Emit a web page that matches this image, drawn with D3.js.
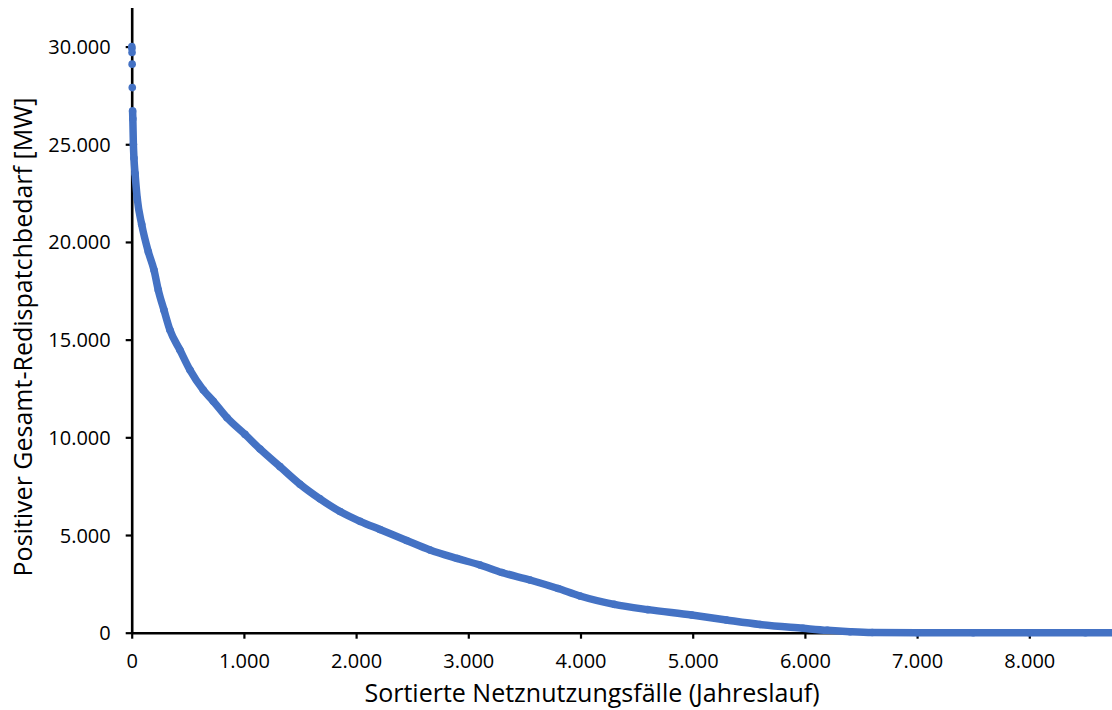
<!DOCTYPE html>
<meta charset="utf-8">
<style>
body { margin: 0; background: #fff; }
text { font-family: "Open Sans", sans-serif; fill: #000; }
.axis path, .axis line { stroke: #000; }
</style>
<svg width="1112" height="710"></svg>
<script src="https://d3js.org/d3.v7.min.js"></script>
<script>

// isolated peak markers at the very start of the sorted year
var peakHours  = [1, 2, 3, 4, 5];
var peakValues = [30000, 29900, 29700, 29100, 27900];

// dense band of markers (sorted hours of the year, MW)
var curveHours  = [8, 10, 15, 20, 30, 50, 89, 148, 199, 237, 288, 341, 430, 520, 638, 727, 850,
                   1010, 1144, 1322, 1500, 1678, 1857, 2035, 2213, 2450, 2659, 2900, 3105, 3300,
                   3550, 3800, 3996, 4300, 4600, 4991, 5300, 5600, 5983, 6200, 6403, 6600,
                   7000, 7500, 8000, 8500, 8760];
var curveValues = [26700, 26300, 25000, 24300, 23500, 22200, 20900, 19500, 18560, 17540, 16510,
                   15490, 14470, 13440, 12420, 11850, 11000, 10150, 9400, 8500, 7600, 6850, 6200,
                   5700, 5280, 4720, 4232, 3800, 3465, 3080, 2697, 2260, 1878, 1450, 1180, 905,
                   650, 420, 225, 120, 50, 10, 0, 0, 0, 0, 0];

var xTicks = [0, 1000, 2000, 3000, 4000, 5000, 6000, 7000, 8000];
var yTicks = [0, 5000, 10000, 15000, 20000, 25000, 30000];

var xTitle = "Sortierte Netznutzungsfälle (Jahreslauf)";
var yTitle = "Positiver Gesamt-Redispatchbedarf [MW]";

var svg = d3.select("svg");
var blue = "#4472C4";

var x = d3.scaleLinear().domain([0, 8760]).range([131.7, 131.7 + 8.76 * 112.2]);
var y = d3.scaleLinear().domain([0, 32000]).range([632.7, 7.5]);

var fmt = function(d) { return d3.format(",")(d).replace(/,/g, "."); };

var xAxis = svg.append("g")
    .attr("class", "axis")
    .attr("transform", "translate(0," + y(0) + ")")
    .call(d3.axisBottom(x).tickValues(xTicks).tickSize(6).tickSizeOuter(0).tickFormat(fmt));

var yAxis = svg.append("g")
    .attr("class", "axis")
    .attr("transform", "translate(" + x(0) + ",0)")
    .call(d3.axisLeft(y).tickValues(yTicks).tickSize(6).tickSizeOuter(0).tickFormat(fmt));

svg.selectAll(".axis path").attr("stroke-width", 2.6);
svg.selectAll(".axis line").attr("stroke-width", 2.2);
svg.selectAll(".axis text")
    .style("font-size", "20px")
    .attr("fill", "#000");
xAxis.selectAll("text").attr("y", 17).attr("dy", "0.9em");
yAxis.selectAll("text").attr("x", -21).attr("dy", "0.35em");

// axis titles
svg.append("text")
    .attr("x", 592)
    .attr("y", 702)
    .attr("text-anchor", "middle")
    .style("font-size", "25px")
    .text(xTitle);

svg.append("text")
    .attr("transform", "translate(32," + 337 + ") rotate(-90)")
    .attr("text-anchor", "middle")
    .style("font-size", "25px")
    .text(yTitle);

// the band: markers joined by a thick line of the same colour
var line = d3.line()
    .x(function(d) { return x(d[0]); })
    .y(function(d) { return y(d[1]); })
    .curve(d3.curveMonotoneX);

var curve = curveHours.map(function(h, i) { return [h, curveValues[i]]; });
var peaks = peakHours.map(function(h, i) { return [h, peakValues[i]]; });

svg.append("path")
    .datum(curve)
    .attr("fill", "none")
    .attr("stroke", blue)
    .attr("stroke-width", 7.5)
    .attr("stroke-linecap", "round")
    .attr("stroke-linejoin", "round")
    .attr("d", line);

svg.append("g")
  .selectAll("circle")
  .data(peaks.concat(curve))
  .enter().append("circle")
    .attr("cx", function(d) { return x(d[0]); })
    .attr("cy", function(d) { return y(d[1]); })
    .attr("r", 3.8)
    .attr("fill", blue);

</script>
